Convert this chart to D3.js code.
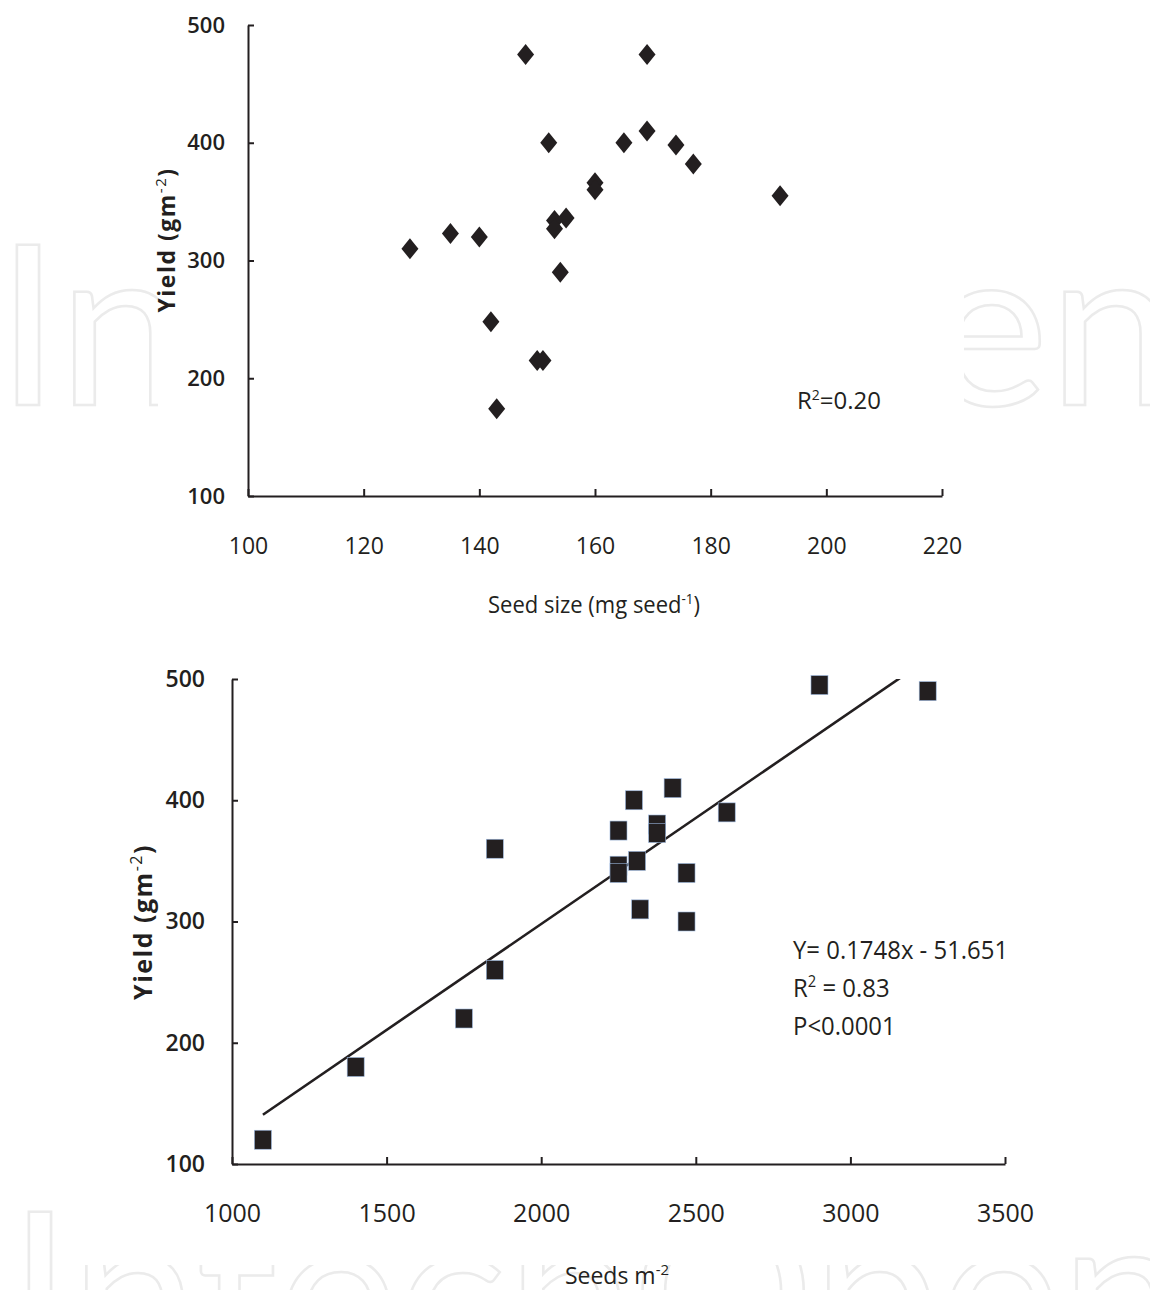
<!DOCTYPE html>
<html>
<head>
<meta charset="utf-8">
<script src="https://cdn.jsdelivr.net/npm/d3@7"></script>
<style>
  body { margin: 0; background: white; }
  svg { display: block; }
  .narrow { font-family: "Open Sans", "DejaVu Sans", sans-serif; }
  .wide { font-family: "Open Sans", "DejaVu Sans", sans-serif; }
</style>
</head>
<body>
<div id="container"></div>
<script>
// seed size (mg seed-1) vs yield (g m-2)
const seedSize = [128, 135, 140, 142, 143, 148, 150, 151, 152, 153, 153, 155, 154, 160, 160, 165, 169, 169, 174, 177, 192]
const yieldA = [310, 323, 320, 248, 174, 475, 215, 215, 400, 334, 327, 336, 290, 366, 360, 400, 475, 410, 398, 382, 355]

// seeds m-2 vs yield (g m-2)
const seedsM2 = [1100, 1400, 1750, 1850, 1850, 2250, 2250, 2250, 2310, 2300, 2320, 2375, 2375, 2425, 2470, 2470, 2600, 2900, 3250]
const yieldB = [120, 180, 220, 260, 360, 375, 346, 340, 350, 400, 310, 380, 373, 410, 340, 300, 390, 495, 490]

const fitSlope = 0.1748
const fitIntercept = -51.651

const xTicksA = [100, 120, 140, 160, 180, 200, 220]
const xTicksB = [1000, 1500, 2000, 2500, 3000, 3500]
const yTicks = [100, 200, 300, 400, 500]

const w = 1150
const h = 1290
const ink = "#231f20"

const svg = d3.select("#container")
    .append("svg")
    .attr("width", w)
    .attr("height", h)

// faint watermark, hidden behind the two chart backgrounds
function watermark(x, baseline) {
    svg.append("text")
        .attr("x", x)
        .attr("y", baseline)
        .attr("textLength", 1180)
        .attr("lengthAdjust", "spacingAndGlyphs")
        .style("font-family", "Lato, 'Noto Sans', sans-serif")
        .style("font-size", "224px")
        .style("fill", "none")
        .style("stroke", "#ebebeb")
        .style("stroke-width", 2.5)
        .text("IntechOpen")
}
watermark(-4, 405)
watermark(8, 1372)

svg.append("rect").attr("x", 158).attr("y", 0).attr("width", 806).attr("height", 632).attr("fill", "white")
svg.append("rect").attr("x", 60).attr("y", 640).attr("width", 985).attr("height", 625).attr("fill", "white")

// small raised text: base, superscript, rest (offsets in px so they cancel)
function supText(sel, base, sup, rest, supSize, lift) {
    sel.append("tspan").text(base)
    sel.append("tspan").text(sup).attr("dy", -lift).style("font-size", supSize + "px").style("font-weight", 400)
    if (rest) sel.append("tspan").text(rest).attr("dy", lift)
}

// ---------- top chart ----------
const xA = d3.scaleLinear().domain([100, 220]).range([248, 942])
const yA = d3.scaleLinear().domain([100, 500]).range([496, 25])

const gA = svg.append("g")

gA.append("g")
    .attr("transform", `translate(0, ${yA(100)})`)
    .call(d3.axisBottom(xA).tickValues(xTicksA).tickSizeInner(-7).tickSizeOuter(0).tickPadding(42).tickFormat(d3.format("d")))
    .call(g => g.select(".domain").attr("stroke", ink).attr("stroke-width", 2))
    .call(g => g.selectAll(".tick line").attr("stroke", ink).attr("stroke-width", 2))
    .call(g => g.selectAll(".tick text").attr("class", "narrow").style("font-size", "23px").attr("fill", ink))

gA.append("g")
    .attr("transform", `translate(${xA(100)}, 0)`)
    .call(d3.axisLeft(yA).tickValues(yTicks).tickSizeInner(-6).tickSizeOuter(0).tickPadding(23))
    .call(g => g.select(".domain").attr("stroke", ink).attr("stroke-width", 2))
    .call(g => g.selectAll(".tick line").attr("stroke", ink).attr("stroke-width", 2))
    .call(g => g.selectAll(".tick text").attr("class", "wide").style("font-size", "22px").style("font-weight", 600).attr("fill", ink))

gA.selectAll("path.dot")
    .data(seedSize)
    .enter()
    .append("path")
    .attr("class", "dot")
    .attr("d", "M0,-10.5L8.5,0L0,10.5L-8.5,0Z")
    .attr("transform", (d, i) => `translate(${xA(d)}, ${yA(yieldA[i])})`)
    .attr("fill", ink)

const yLabA = gA.append("text")
    .attr("class", "wide")
    .attr("transform", "translate(175, 240) rotate(-90)")
    .attr("text-anchor", "middle")
    .style("font-size", "23px")
    .style("font-weight", 700)
    .style("letter-spacing", "1.5px")
    .attr("fill", ink)
supText(yLabA, "Yield (gm", "-2", ")", 15, 9)

const xLabA = gA.append("text")
    .attr("class", "narrow")
    .attr("x", 594)
    .attr("y", 613)
    .attr("text-anchor", "middle")
    .attr("textLength", 212)
    .attr("lengthAdjust", "spacingAndGlyphs")
    .style("font-size", "23px")
    .attr("fill", ink)
supText(xLabA, "Seed size (mg seed", "-1", ")", 14, 9)

const r2A = gA.append("text")
    .attr("class", "narrow")
    .attr("x", 797)
    .attr("y", 409)
    .style("font-size", "24px")
    .attr("fill", ink)
supText(r2A, "R", "2", "=0.20", 14, 9)

// ---------- bottom chart ----------
const xB = d3.scaleLinear().domain([1000, 3500]).range([232, 1005])
const yB = d3.scaleLinear().domain([100, 500]).range([1164, 679])

const gB = svg.append("g")

gB.append("g")
    .attr("transform", `translate(0, ${yB(100)})`)
    .call(d3.axisBottom(xB).tickValues(xTicksB).tickSizeInner(-7).tickSizeOuter(0).tickPadding(40).tickFormat(d3.format("d")))
    .call(g => g.select(".domain").attr("stroke", ink).attr("stroke-width", 2))
    .call(g => g.selectAll(".tick line").attr("stroke", ink).attr("stroke-width", 2))
    .call(g => g.selectAll(".tick text").attr("class", "narrow").style("font-size", "25px").attr("fill", ink))

gB.append("g")
    .attr("transform", `translate(${xB(1000)}, 0)`)
    .call(d3.axisLeft(yB).tickValues(yTicks).tickSizeInner(-6).tickSizeOuter(0).tickPadding(27))
    .call(g => g.select(".domain").attr("stroke", ink).attr("stroke-width", 2))
    .call(g => g.selectAll(".tick line").attr("stroke", ink).attr("stroke-width", 2))
    .call(g => g.selectAll(".tick text").attr("class", "wide").style("font-size", "23px").style("font-weight", 600).attr("fill", ink))

svg.append("clipPath")
    .attr("id", "plotB")
    .append("rect")
    .attr("x", xB(1000))
    .attr("y", yB(500))
    .attr("width", xB(3500) - xB(1000))
    .attr("height", yB(100) - yB(500))

const fitX = [d3.min(seedsM2), d3.max(seedsM2)]
gB.append("path")
    .datum(fitX)
    .attr("d", d3.line().x(d => xB(d)).y(d => yB(fitSlope * d + fitIntercept)))
    .attr("clip-path", "url(#plotB)")
    .attr("stroke", ink)
    .attr("stroke-width", 2.6)
    .attr("fill", "none")

gB.selectAll("rect.dot")
    .data(seedsM2)
    .enter()
    .append("rect")
    .attr("class", "dot")
    .attr("x", d => xB(d) - 8.5)
    .attr("y", (d, i) => yB(yieldB[i]) - 9.5)
    .attr("width", 17)
    .attr("height", 19)
    .attr("fill", ink)
    .attr("stroke", "#9bb7de")
    .attr("stroke-width", 0.6)

const yLabB = gB.append("text")
    .attr("class", "wide")
    .attr("transform", "translate(152, 922) rotate(-90)")
    .attr("text-anchor", "middle")
    .style("font-size", "25px")
    .style("font-weight", 700)
    .style("letter-spacing", "1.5px")
    .attr("fill", ink)
supText(yLabB, "Yield (gm", "-2", ")", 16, 10)

const xLabB = gB.append("text")
    .attr("class", "narrow")
    .attr("x", 617)
    .attr("y", 1284)
    .attr("text-anchor", "middle")
    .style("font-size", "23px")
    .attr("fill", ink)
supText(xLabB, "Seeds m", "-2", null, 15, 9)

const eq = gB.append("g")
    .attr("class", "narrow")
    .attr("transform", "translate(793, 0) scale(0.92, 1)")
    .style("font-size", "26px")
    .attr("fill", ink)
eq.append("text").attr("y", 959).text("Y= 0.1748x - 51.651")
supText(eq.append("text").attr("y", 997), "R", "2", " = 0.83", 16, 10)
eq.append("text").attr("y", 1035).text("P<0.0001")
</script>
</body>
</html>
